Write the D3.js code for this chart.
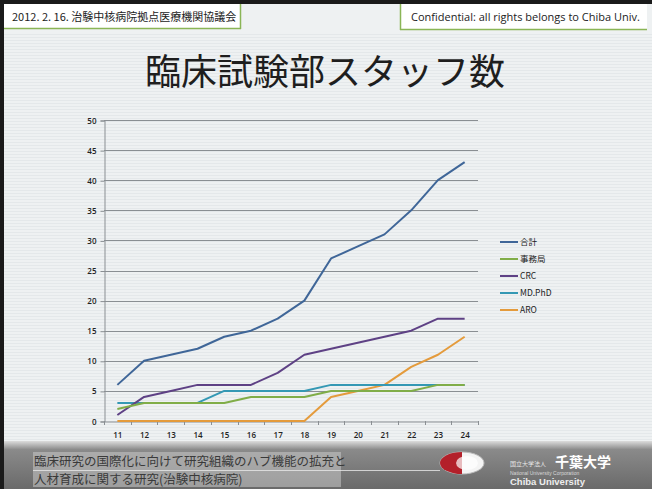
<!DOCTYPE html>
<html><head><meta charset="utf-8">
<script src="https://cdn.jsdelivr.net/npm/d3@7"></script>
<style>
html,body{margin:0;padding:0;background:#fff;}
svg{display:block;}
</style></head>
<body>
<svg id="slide" width="652" height="489"></svg>
<script>
// Staff counts per period (11 … 24)
const periods = ["11","12","13","14","15","16","17","18","19","20","21","22","23","24"];
const total   = [6,10,11,12,14,15,17,20,27,29,31,35,40,43];
const office  = [2,3,3,3,3,4,4,4,5,5,5,5,6,6];
const crc     = [1,4,5,6,6,6,8,11,12,13,14,15,17,17];
const mdphd   = [3,3,3,3,5,5,5,5,6,6,6,6,6,6];
const aro     = [0,0,0,0,0,0,0,0,4,5,6,9,11,14];
const seriesNames = ["合計","事務局","CRC","MD.PhD","ARO"];
const yTicks = [0,5,10,15,20,25,30,35,40,45,50];

const series = [
  {name: seriesNames[0], values: total,  color: "#3f6698"},
  {name: seriesNames[1], values: office, color: "#80ad48"},
  {name: seriesNames[2], values: crc,    color: "#5e4185"},
  {name: seriesNames[3], values: mdphd,  color: "#3498b4"},
  {name: seriesNames[4], values: aro,    color: "#e49b3c"}
];

const svg = d3.select("#slide");
const jp = "'Noto Sans CJK JP','Noto Sans',sans-serif";

// slide background
svg.append("rect").attr("width",652).attr("height",489).attr("fill","#eef1f2");
// faint horizontal scan texture
const tex = svg.append("g").attr("opacity",0.35);
d3.range(34, 446, 3).forEach(y => {
  tex.append("line").attr("x1",4).attr("x2",652).attr("y1",y+0.5).attr("y2",y+0.5)
     .attr("stroke","#d2dade").attr("stroke-width",1);
});

// frame
svg.append("rect").attr("x",0).attr("y",0).attr("width",652).attr("height",4).attr("fill","#1a1a1a");
svg.append("rect").attr("x",0).attr("y",0).attr("width",4).attr("height",489).attr("fill","#1a1a1a");

// header boxes
svg.append("rect").attr("x",4).attr("y",4).attr("width",236).attr("height",24).attr("fill","#fff");
svg.append("line").attr("x1",4).attr("x2",241).attr("y1",28.5).attr("y2",28.5).attr("stroke","#8ab556").attr("stroke-width",1.5);
svg.append("line").attr("x1",240.5).attr("x2",240.5).attr("y1",4).attr("y2",29).attr("stroke","#8ab556").attr("stroke-width",1.5);
svg.append("text").attr("x",12).attr("y",20.5).attr("font-family",jp).attr("font-size",11)
  .attr("fill","#222").text("2012. 2. 16. 治験中核病院拠点医療機関協議会");

svg.append("rect").attr("x",401).attr("y",4).attr("width",246).attr("height",25).attr("fill","#fff");
svg.append("line").attr("x1",400.5).attr("x2",400.5).attr("y1",4).attr("y2",30).attr("stroke","#8ab556").attr("stroke-width",1.5);
svg.append("line").attr("x1",400).attr("x2",647).attr("y1",29.5).attr("y2",29.5).attr("stroke","#8ab556").attr("stroke-width",1.5);
svg.append("text").attr("x",411).attr("y",21).attr("font-family","'Open Sans','Noto Sans',sans-serif").attr("font-size",11)
  .attr("fill","#222").text("Confidential: all rights belongs to Chiba Univ.");

// title
svg.append("text").attr("x",325).attr("y",85).attr("text-anchor","middle")
  .attr("font-family",jp).attr("font-size",36).attr("fill","#1e1e1e").text("臨床試験部スタッフ数");

// chart
const x = d3.scaleBand().domain(periods).range([104,478]);
const y = d3.scaleLinear().domain([0,50]).range([421,120]);

const grid = svg.append("g");
grid.selectAll("line").data(yTicks.filter(d => d > 0)).join("line")
  .attr("x1",104).attr("x2",478)
  .attr("y1",d => Math.round(y(d))+0.5).attr("y2",d => Math.round(y(d))+0.5)
  .attr("stroke","#8a8f93").attr("stroke-width",1.2);

const yAxis = svg.append("g").attr("transform","translate(104.5,0.5)")
  .call(d3.axisLeft(y).tickValues(yTicks).tickSize(4).tickPadding(4));
yAxis.select(".domain").attr("stroke","#8a8f93");
yAxis.selectAll(".tick line").attr("stroke","#8a8f93");
yAxis.selectAll("text").attr("font-family","'Open Sans',sans-serif").attr("font-size",8).attr("font-weight",600).attr("fill","#222");

const xAxis = svg.append("g").attr("transform","translate(0.5,421.5)")
  .call(d3.axisBottom(x).tickSize(0).tickPadding(11));
xAxis.select(".domain").attr("stroke","#8a8f93");
xAxis.selectAll("text").attr("font-family","'Open Sans',sans-serif").attr("font-size",8).attr("font-weight",600).attr("fill","#222");
// category boundary ticks
svg.append("g").selectAll("line").data(periods.concat(["end"])).join("line")
  .attr("x1",(d,i) => Math.round(104 + i*x.step())+0.5)
  .attr("x2",(d,i) => Math.round(104 + i*x.step())+0.5)
  .attr("y1",421).attr("y2",425).attr("stroke","#8a8f93");

const line = d3.line()
  .x((d,i) => x(periods[i]) + x.bandwidth()/2)
  .y(d => y(d));

// draw from back to front so the total sits on top
svg.append("g").selectAll("path").data(series.slice().reverse()).join("path")
  .attr("d",d => line(d.values))
  .attr("fill","none").attr("stroke",d => d.color)
  .attr("stroke-width",2).attr("stroke-linejoin","round");

// legend
const lg = svg.append("g").selectAll("g").data(series).join("g")
  .attr("transform",(d,i) => `translate(500,${242 + i*17})`);
lg.append("line").attr("x1",0).attr("x2",18).attr("stroke",d => d.color).attr("stroke-width",2);
lg.append("text").attr("x",20).attr("y",3).attr("font-family",jp).attr("font-size",8.5)
  .attr("fill","#222").text(d => d.name);

// footer band
const defs = svg.append("defs");
const fg = defs.append("linearGradient").attr("id","foot").attr("x1",0).attr("x2",0).attr("y1",0).attr("y2",1);
fg.append("stop").attr("offset","0%").attr("stop-color","#dcdcdc");
fg.append("stop").attr("offset","18%").attr("stop-color","#8a8a8a");
fg.append("stop").attr("offset","100%").attr("stop-color","#6a6a6a");
svg.append("rect").attr("x",4).attr("y",441).attr("width",648).attr("height",48).attr("fill","url(#foot)");
svg.append("rect").attr("x",0).attr("y",441).attr("width",4).attr("height",48).attr("fill","#1a1a1a");

const ftxt = svg.append("g").attr("font-family",jp).attr("font-size",12.5).attr("fill","#3a3a3a");
ftxt.append("rect").attr("x",33).attr("y",452).attr("width",308).attr("height",35).attr("fill","#c9c9c9").attr("opacity",0.55);
ftxt.append("text").attr("x",34).attr("y",466).text("臨床研究の国際化に向けて研究組織のハブ機能の拡充と");
ftxt.append("text").attr("x",34).attr("y",484).text("人材育成に関する研究(治験中核病院)");
svg.append("line").attr("x1",33).attr("x2",440).attr("y1",470.5).attr("y2",470.5).attr("stroke","#e8e8e8").attr("stroke-width",0.8);

// logo
svg.append("ellipse").attr("cx",462).attr("cy",463).attr("rx",22).attr("ry",11).attr("fill","#f4f4f4").attr("stroke","#bbb");
svg.append("path").attr("d","M462,452 A22,11 0 0 0 462,474 Z").attr("fill","#b3202a");
svg.append("ellipse").attr("cx",467).attr("cy",463).attr("rx",11).attr("ry",7).attr("fill","#fff").attr("opacity",0.7);

// university mark
svg.append("text").attr("x",510).attr("y",466).attr("font-family",jp).attr("font-size",6).attr("fill","#e6e6e6").text("国立大学法人");
svg.append("text").attr("x",555).attr("y",467).attr("font-family",jp).attr("font-size",14).attr("font-weight",700).attr("fill","#fff").text("千葉大学");
svg.append("text").attr("x",510).attr("y",475).attr("font-family","'Liberation Sans',sans-serif").attr("font-size",5).attr("fill","#d8d8d8").text("National University Corporation");
svg.append("text").attr("x",510).attr("y",485).attr("font-family","'Liberation Sans',sans-serif").attr("font-size",9.5).attr("font-weight",700).attr("fill","#eeeeee").text("Chiba University");
</script>
</body></html>
